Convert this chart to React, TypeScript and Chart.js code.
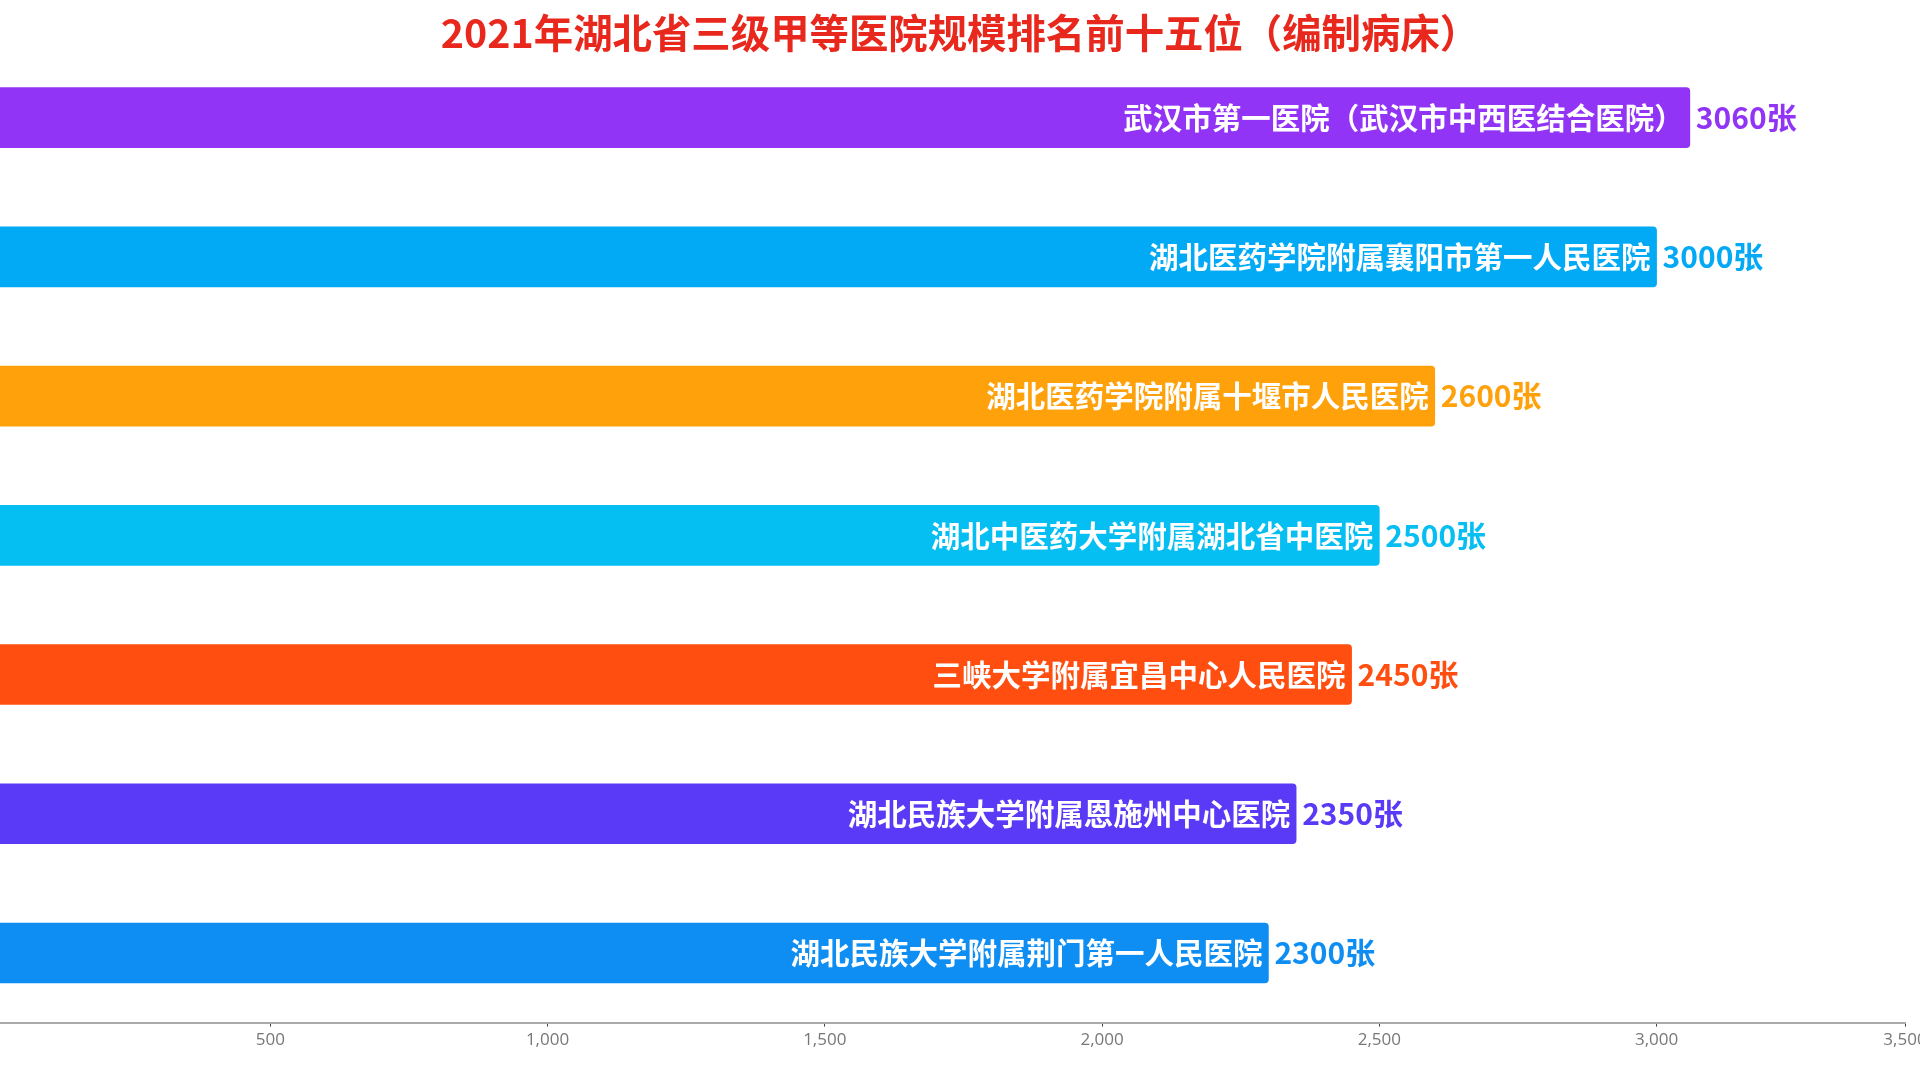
import React, { useEffect, useRef } from "react";
import { Chart, registerables } from "chart.js";

Chart.register(...registerables);

const titleText = "2021年湖北省三级甲等医院规模排名前十五位（编制病床）";

const categories = [
  "武汉市第一医院（武汉市中西医结合医院）",
  "湖北医药学院附属襄阳市第一人民医院",
  "湖北医药学院附属十堰市人民医院",
  "湖北中医药大学附属湖北省中医院",
  "三峡大学附属宜昌中心人民医院",
  "湖北民族大学附属恩施州中心医院",
  "湖北民族大学附属荆门第一人民医院",
];

const values = [3060, 3000, 2600, 2500, 2450, 2350, 2300];

const colors = ["#9234F5", "#02A9F4", "#FFA10B", "#05BEF2", "#FF4E10", "#5A3AF6", "#0E8EF2"];

const tickValues = [500, 1000, 1500, 2000, 2500, 3000, 3500];
const tickLabels = ["500", "1,000", "1,500", "2,000", "2,500", "3,000", "3,500"];

const CJK = '"Noto Sans CJK SC", "Noto Sans", sans-serif';

const labelPlugin = {
  id: "barLabels",
  afterDatasetsDraw(chart: any) {
    const ctx = chart.ctx;
    const meta = chart.getDatasetMeta(0);
    ctx.save();
    meta.data.forEach((bar: any, i: number) => {
      const end = bar.x;
      const y = bar.y;
      ctx.textBaseline = "middle";
      ctx.font = `bold 29.5px ${CJK}`;
      ctx.fillStyle = "#ffffff";
      ctx.textAlign = "right";
      ctx.fillText(categories[i], end - 6, y);
      ctx.font = `bold 30px ${CJK}`;
      ctx.fillStyle = colors[i];
      ctx.textAlign = "left";
      ctx.fillText(values[i] + "张", end + 6, y);
    });
    ctx.restore();
  },
};

export default function App() {
  const ref = useRef<HTMLCanvasElement | null>(null);

  useEffect(() => {
    if (!ref.current) return;
    const chart = new Chart(ref.current, {
      type: "bar",
      data: {
        labels: categories,
        datasets: [
          {
            data: values,
            backgroundColor: colors,
            borderRadius: 4,
            borderSkipped: "start",
            barThickness: 60,
          },
        ],
      },
      options: {
        indexAxis: "y",
        responsive: false,
        animation: false,
        layout: { padding: { top: 48, bottom: 27, left: 0, right: 55 } },
        plugins: {
          legend: { display: false },
          tooltip: { enabled: false },
          title: { display: false },
        },
        scales: {
          y: { display: false },
          x: {
            min: 12.6,
            max: 3448,
            afterBuildTicks: (scale: any) => {
              scale.ticks = tickValues.map((v) => ({ value: Math.min(v, scale.max) }));
            },
            ticks: {
              autoSkip: false,
              maxRotation: 0,
              padding: 3,
              color: "#777777",
              font: { size: 17, family: '"Open Sans", sans-serif' },
              callback: (_v: any, index: number) => tickLabels[index],
            },
            grid: {
              drawOnChartArea: false,
              drawTicks: true,
              tickLength: 4,
              color: "#444444",
              lineWidth: 1,
            },
            border: { display: true, color: "#aaaaaa", width: 2 },
          },
        },
      },
      plugins: [labelPlugin],
    });
    return () => chart.destroy();
  }, []);

  return (
    <div
      style={{
        position: "fixed",
        left: 0,
        top: 0,
        width: 1920,
        height: 1080,
        overflow: "hidden",
        background: "#ffffff",
      }}
    >
      <canvas ref={ref} width={1960} height={1080} style={{ width: 1960, height: 1080, display: "block" }} />
      <div
        style={{
          position: "absolute",
          left: 10,
          width: 1900,
          top: 8,
          textAlign: "center",
          fontFamily: CJK,
          fontWeight: "bold",
          fontSize: 39.4,
          lineHeight: "46px",
          color: "#E8271D",
          whiteSpace: "nowrap",
        }}
      >
        {titleText}
      </div>
    </div>
  );
}
